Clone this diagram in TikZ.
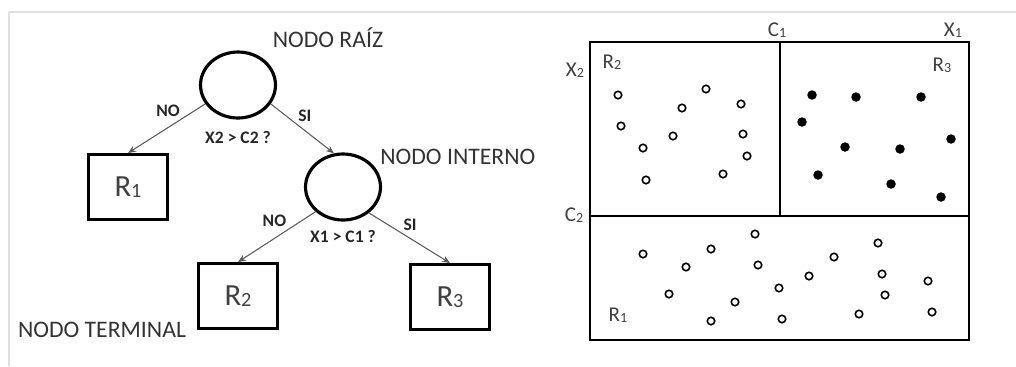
\documentclass[tikz,border=0pt]{standalone}
\usepackage{fontspec}
\setmainfont{Carlito}
\usetikzlibrary{arrows.meta,positioning,shapes.geometric}
\newcommand{\subidx}[1]{\raisebox{-0.5pt}{\fontsize{11.5}{11.5}\selectfont #1}}
\newcommand{\smallidx}[1]{\raisebox{-0.5pt}{\fontsize{8}{8}\selectfont #1}}
\tikzset{
  >={Stealth[length=1.6mm,width=1.3mm]},
  splitnode/.style={ellipse, draw, line width=1.8pt, minimum width=1.5cm, minimum height=1.32cm, inner sep=0pt},
  leaf/.style={draw, line width=1.7pt, minimum width=1.58cm, minimum height=1.3cm, inner sep=0pt, font=\fontsize{17.5}{17.5}\selectfont, text=black!75},
  nodelabel/.style={inner sep=0pt, font=\fontsize{13.5}{13.5}\selectfont, text=black!80},
  cond/.style={inner sep=0pt, font=\bfseries\fontsize{10}{10}\selectfont, text=black!85},
  answer/.style={inner sep=1pt, font=\bfseries\fontsize{10}{10}\selectfont, text=black!85},
  branch/.style={->, draw=black!65, line width=0.6pt},
  part/.style={draw, line width=1.5pt},
  axlabel/.style={inner sep=0pt, font=\fontsize{12}{12}\selectfont, text=black!75},
  opendot/.style={draw, line width=0.9pt},
  fulldot/.style={fill=black},
}

\begin{document}
\begin{tikzpicture}[x=0.02cm, y=-0.02cm]
  \useasboundingbox (0,0) rectangle (1016,366);
  \draw[black!12, line width=0.8pt] (1016,12) -| (9,366);

  % arbol de decision
  \node[splitnode] (root) at (238,85) {};
  \node[splitnode] (inner) at (343,187) {};
  \node[leaf] (r1) at (128,187) {R\subidx{1}};
  \node[leaf] (r2) at (238,296) {R\subidx{2}};
  \node[leaf] (r3) at (450,297) {R\subidx{3}};

  \node[nodelabel] (rootlbl) at (328,38) {NODO RAÍZ};
  \node[nodelabel, anchor=west] (innerlbl) at (380,157) {NODO INTERNO};
  \node[nodelabel] (termlbl) at (102,330) {NODO TERMINAL};
  \node[cond, below=0.22cm of root] (q1) {X2 > C2 ?};
  \node[cond, below=0.16cm of inner] (q2) {X1 > C1 ?};

  \draw[branch] (root.210) -- node[answer, pos=0.3, above left] {NO} (r1.north);
  \draw[branch] (root.330) -- node[answer, pos=0.4, above right] {SI} (inner.105);
  \draw[branch] (inner.222) -- node[answer, pos=0.35, above left] {NO} (r2.north);
  \draw[branch] (inner.315) -- node[answer, pos=0.4, above right] {SI} (r3.north);

  % espacio de predictores
  \draw[part] (590,42) rectangle (969,340);
  \draw[part] (780,42) -- (780,216);
  \draw[part] (590,216) -- (969,216);

  \node[axlabel] (c1) at (777,30) {C\smallidx{1}};
  \node[axlabel] (x1) at (953,30) {X\smallidx{1}};
  \node[axlabel] (x2) at (575,70) {X\smallidx{2}};
  \node[axlabel] (c2) at (574,215) {C\smallidx{2}};
  \node[axlabel] (lr2) at (612,62) {R\smallidx{2}};
  \node[axlabel] (lr3) at (942,65) {R\smallidx{3}};
  \node[axlabel] (lr1) at (618,315) {R\smallidx{1}};

  \foreach \p in {(618,95),(706,89),(682,108),(741,104),(621,126),(673,136),
                  (743,134),(643,148),(747,156),(646,180),(723,174)}
    \draw[opendot] \p circle[radius=0.075cm];
  \foreach \p in {(812,95),(856,97),(921,97),(802,122),(951,139),(845,147),
                  (900,149),(818,175),(891,184),(941,197)}
    \fill[fulldot] \p circle[radius=0.095cm];
  \foreach \p in {(643,254),(711,249),(755,234),(878,243),(686,267),(758,265),
                  (834,257),(809,276),(882,274),(928,281),(669,294),(779,288),
                  (885,295),(735,302),(711,321),(782,319),(859,314),(932,312)}
    \draw[opendot] \p circle[radius=0.075cm];
\end{tikzpicture}
\end{document}
